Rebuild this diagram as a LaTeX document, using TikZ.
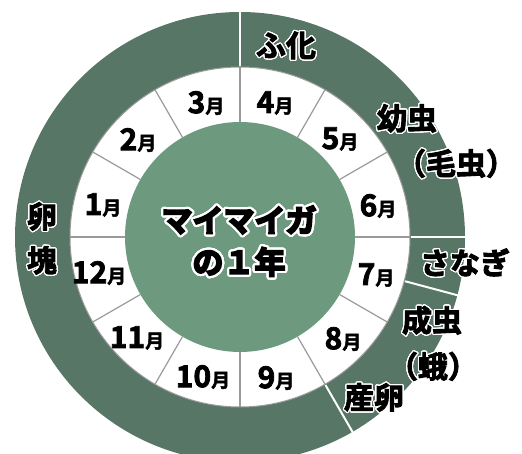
\documentclass[tikz,border=0pt]{standalone}
\usepackage{fontspec}
\newfontfamily\jpmon{Noto Sans CJK JP Bold}[FakeBold=2.5]
\newfontfamily\jpstage{Noto Sans CJK JP Bold}[FakeBold=3]
\newfontfamily\jptitle{Noto Sans CJK JP Bold}[FakeBold=6]
\usepackage[copies]{contour}
\contournumber{32}
\contourlength{1.2pt}
\definecolor{ringgreen}{HTML}{587666}
\definecolor{coregreen}{HTML}{6D9A7F}
\definecolor{divgray}{HTML}{9A9A9A}
\newcommand\monthlbl[1]{{\fontsize{30}{30}\selectfont #1}{\fontsize{19}{19}\selectfont 月}}
\begin{document}
\begin{tikzpicture}[x=1pt,y=1pt,
  monlbl/.style={font=\jpmon, inner sep=0pt, text=black},
  stagelbl/.style={font=\jpstage\fontsize{30}{32}\selectfont, inner sep=0pt, text=black},
  titlelbl/.style={font=\jptitle\fontsize{31}{34}\selectfont, inner sep=0pt, text=black},
  monthdiv/.style={draw=divgray, line width=1.2pt},
  stagediv/.style={draw=white, line width=2pt}]
\useasboundingbox (0,0) rectangle (522,454);
\coordinate (c) at (240,217);
\begin{scope}[shift={(c)}]
  % outer stage ring
  \fill[ringgreen] (0,0) circle[radius=225pt];
  % month ring
  \fill[white] (0,0) circle[radius=170pt];
  \draw[divgray, line width=1pt] (0,0) circle[radius=170pt];
  \foreach \a in {0,30,...,330} {
    \draw[monthdiv] (\a:115pt) -- (\a:170pt);
  }
  % core
  \fill[coregreen] (0,0) circle[radius=115pt];
  % stage dividers
  \foreach \a in {90,0,-15,-60} {
    \draw[stagediv] (\a:171pt) -- (\a:226pt);
  }
\end{scope}
% month labels
\foreach \m/\x/\y in {1/103/249,2/138/314,3/206/351,4/275/351,5/340/315,6/378/248,
                      7/376/179,8/343/115,9/276/76,10/203/77,11/137/116,12/99/181} {
  \node[monlbl] (m\m) at (\x,\y) {\monthlbl{\m}};
}
% stage labels
\node[stagelbl] (fuka) at (286,408) {\contour{white}{ふ化}};
\node[stagelbl] (youchu) at (407,335) {\contour{white}{幼虫}};
\node[stagelbl] (kemushi) at (456,290) {\contour{white}{（毛虫）}};
\node[stagelbl] (sanagi) at (465,191) {\contour{white}{さなぎ}};
\node[stagelbl] (seichu) at (432,133) {\contour{white}{成虫}};
\node[stagelbl] (ga) at (433,87) {\contour{white}{（蛾）}};
\node[stagelbl] (sanran) at (374,56) {\contour{white}{産卵}};
\node[stagelbl] (ran) at (42,237) {\contour{white}{卵}};
\node[stagelbl] (kai) at (42,193) {\contour{white}{塊}};
% title
\node[titlelbl] (title1) at (239,233) {\contourlength{2.2pt}\contour{white}{マイマイガ}};
\node[titlelbl] (title2) at (239,191) {\contourlength{2.2pt}\contour{white}{の１年}};
\end{tikzpicture}
\end{document}
